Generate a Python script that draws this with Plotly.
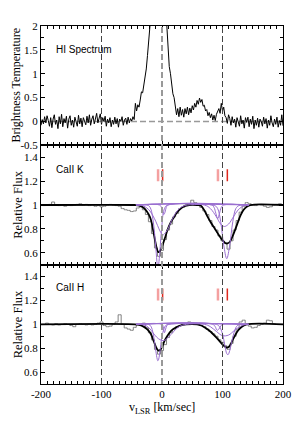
import plotly.graph_objects as go
from plotly.subplots import make_subplots

# ---------------- data ----------------
hi_v = list(range(-200, 201, 2))
hi_t = [
    -0.08, 0.04, -0.05, 0.10, -0.03, 0.12, 0.02, -0.10, 0.08, -0.13,
    0.05, 0.14, -0.06, 0.03, -0.15, 0.10, -0.05, 0.15, -0.11, 0.06,
    -0.03, 0.11, -0.14, 0.05, 0.12, -0.08, 0.03, -0.12, 0.09, 0.00,
    -0.10, 0.13, -0.05, 0.07, -0.11, 0.08, 0.02, -0.07, 0.11, -0.03,
    0.14, -0.08, 0.05, 0.12, -0.05, 0.08, 0.17, -0.03, 0.09, 0.16,
    -0.06, 0.08, 0.00, 0.11, -0.10, 0.05, -0.03, 0.08, -0.11, 0.03,
    -0.06, 0.09, -0.05, 0.06, -0.12, 0.05, 0.00, 0.10, -0.08, 0.03,
    0.07, -0.06, 0.09, -0.03, 0.06, 0.01, 0.10, 0.04, 0.38, 0.22,
    0.35, 0.30, 0.45, 0.62, 0.60, 0.76, 0.92, 1.10, 1.38, 1.62,
    1.98, 2.30, 2.70, 3.10, 3.50, 3.80, 4.00, 4.10, 4.00, 3.80,
    3.50, 3.20, 2.80, 2.40, 2.00, 1.40, 1.15, 1.00, 0.70, 0.58,
    0.50, 0.28, 0.14, 0.27, 0.10, 0.30, 0.13, 0.25, 0.09, 0.27,
    0.16, 0.30, 0.14, 0.28, 0.18, 0.33, 0.24, 0.38, 0.30, 0.44,
    0.36, 0.49, 0.40, 0.46, 0.32, 0.34, 0.22, 0.25, 0.12, 0.19,
    0.08, 0.16, 0.03, 0.13, 0.02, 0.15, 0.22, 0.27, 0.17, 0.38,
    0.22, 0.30, 0.12, 0.08, -0.04, 0.14, 0.06, -0.08, 0.10, -0.03,
    0.05, -0.12, 0.08, 0.00, -0.10, 0.12, -0.05, 0.03, -0.14, 0.08,
    -0.02, 0.09, -0.11, 0.05, -0.06, 0.11, -0.15, 0.03, -0.08, 0.07,
    -0.12, 0.05, 0.00, -0.10, 0.09, -0.05, 0.06, -0.14, 0.03, -0.08,
    0.12, -0.03, -0.11, 0.05, -0.06, 0.09, -0.12, 0.02, -0.08, 0.14,
    -0.09,
]

ca_v = list(range(-200, 201, 5))
cak_flux = [
    1.000, 0.995, 1.000, 1.005, 1.025, 1.000, 0.995, 1.000, 0.990, 1.000,
    0.995, 1.000, 1.005, 1.010, 1.000, 1.005, 0.995, 1.000, 0.990, 0.995,
    0.985, 0.990, 1.000, 1.005, 1.000, 0.995, 0.990, 0.970, 0.960, 0.955,
    0.945, 0.950, 0.975, 0.985, 0.960, 0.920, 0.860, 0.760, 0.640, 0.570,
    0.620, 0.710, 0.790, 0.840, 0.900, 0.930, 0.970, 0.980, 1.000, 1.010,
    1.040, 1.020, 1.000, 0.980, 0.950, 0.920, 0.870, 0.820, 0.790, 0.740,
    0.700, 0.680, 0.630, 0.700, 0.790, 0.870, 0.940, 0.990, 1.020, 1.010,
    1.000, 0.995, 1.005, 1.000, 0.990, 0.980, 0.985, 1.000, 1.005, 1.010,
    1.000,
]
cah_flux = [
    1.000, 1.000, 1.010, 1.000, 0.995, 1.005, 0.995, 1.000, 1.005, 1.000,
    0.990, 0.980, 1.000, 1.005, 1.000, 0.995, 1.000, 0.995, 1.000, 1.010,
    1.020, 0.990, 0.980, 0.985, 1.000, 1.020, 1.080, 1.000, 0.970, 0.960,
    0.950, 0.975, 1.000, 1.000, 1.010, 0.970, 0.930, 0.870, 0.790, 0.750,
    0.780, 0.830, 0.890, 0.930, 0.960, 0.980, 0.990, 1.000, 1.005, 1.020,
    1.015, 1.010, 1.000, 0.990, 0.980, 0.960, 0.940, 0.920, 0.900, 0.870,
    0.850, 0.820, 0.790, 0.840, 0.900, 0.960, 1.020, 1.035, 1.000, 0.985,
    0.970, 0.975, 0.990, 1.000, 1.010, 1.035, 1.030, 1.005, 1.000, 1.000,
    1.000,
]

# total fits
k_fit_v = [-200, -45, -40, -35, -30, -25, -20, -17, -14, -11, -8, -6, -4, -1, 2, 5, 9, 14, 20, 25, 31, 37, 45,
           58, 64, 70, 75, 80, 85, 90, 95, 100, 105, 108, 112, 116, 120, 125, 130, 135, 140, 146, 200]
k_fit_f = [1.0, 1.0, 0.998, 0.99, 0.975, 0.945, 0.90, 0.85, 0.77, 0.69, 0.625, 0.605, 0.61, 0.64, 0.68, 0.725, 0.79, 0.85, 0.90, 0.94, 0.97, 0.99, 1.0,
           1.0, 0.995, 0.955, 0.905, 0.86, 0.82, 0.78, 0.74, 0.705, 0.68, 0.678, 0.69, 0.73, 0.78, 0.85, 0.915, 0.96, 0.985, 1.0, 1.0]
h_fit_v = [-200, -45, -38, -32, -26, -22, -18, -13, -9, -6, -3, 0, 4, 9, 15, 20, 30, 40,
           58, 65, 72, 80, 88, 95, 100, 105, 108, 112, 116, 121, 126, 132, 140, 200]
h_fit_f = [1.0, 1.0, 0.995, 0.985, 0.965, 0.945, 0.915, 0.85, 0.80, 0.78, 0.785, 0.81, 0.86, 0.905, 0.945, 0.965, 0.99, 1.0,
           1.0, 0.99, 0.97, 0.94, 0.90, 0.86, 0.83, 0.81, 0.805, 0.82, 0.86, 0.91, 0.95, 0.98, 1.0, 1.0]

# individual components
k_comp_v = [
    [-43, -25, -21, -18, -15, -12, -10, -8, -7, -6, -4, -2, 0, 2, 5, 9, 143],
    [-43, -35, -30, -25, -20, -15, -10, -5, -2, 2, 6, 10, 15, 20, 25, 30, 35, 42, 143],
    [-43, -4, -1, 1, 3, 5, 7, 10, 143],
    [-43, 87, 92, 97, 102, 107, 112, 117, 122, 127, 132, 143],
    [-43, 82, 86, 89, 92, 95, 98, 102, 143],
    [-43, 70, 80, 90, 97, 103, 110, 118, 126, 136, 143],
]
k_comp_f = [
    [1.0, 1.0, 0.99, 0.96, 0.88, 0.75, 0.63, 0.50, 0.45, 0.48, 0.58, 0.72, 0.84, 0.93, 0.98, 1.0, 1.0],
    [1.0, 1.0, 0.99, 0.975, 0.95, 0.91, 0.86, 0.80, 0.77, 0.75, 0.77, 0.80, 0.86, 0.91, 0.95, 0.975, 0.99, 1.0, 1.0],
    [1.0, 1.0, 0.98, 0.94, 0.92, 0.94, 0.98, 1.0, 1.0],
    [1.0, 0.995, 0.97, 0.86, 0.665, 0.55, 0.665, 0.86, 0.97, 0.995, 1.0, 1.0],
    [1.0, 1.0, 0.98, 0.93, 0.885, 0.93, 0.98, 1.0, 1.0],
    [1.0, 1.0, 0.97, 0.90, 0.84, 0.82, 0.84, 0.90, 0.96, 0.995, 1.0],
]
h_comp_v = [
    [-43, -22, -18, -15, -12, -10, -8, -7, -6, -4, -2, 0, 3, 6, 10, 143],
    [-43, -35, -25, -18, -12, -6, 0, 4, 10, 16, 22, 30, 40, 143],
    [-43, 0, 2, 4, 6, 8, 11, 143],
    [-43, 90, 95, 100, 104, 107, 109, 112, 115, 119, 123, 128, 143],
    [-43, 84, 88, 91, 94, 97, 100, 143],
    [-43, 70, 80, 90, 100, 110, 120, 130, 140, 143],
]
h_comp_f = [
    [1.0, 1.0, 0.98, 0.93, 0.84, 0.77, 0.71, 0.695, 0.70, 0.75, 0.83, 0.90, 0.96, 0.99, 1.0, 1.0],
    [1.0, 1.0, 0.985, 0.95, 0.91, 0.88, 0.865, 0.865, 0.89, 0.92, 0.955, 0.985, 1.0, 1.0],
    [1.0, 1.0, 0.98, 0.93, 0.96, 0.99, 1.0, 1.0],
    [1.0, 1.0, 0.98, 0.92, 0.82, 0.755, 0.745, 0.78, 0.85, 0.93, 0.98, 1.0, 1.0],
    [1.0, 1.0, 0.98, 0.95, 0.96, 0.985, 1.0, 1.0],
    [1.0, 1.0, 0.98, 0.94, 0.905, 0.91, 0.95, 0.985, 1.0, 1.0],
]

# velocity markers
marker_pink_v = [-6.5, 92.5]
marker_red_v = [1.0, 108.0]
marker_y = [1.2, 1.3]

vlines = [-100, 0, 100]
x_ticks = [-200, -100, 0, 100, 200]
x_ticktext = ["-200", "-100", "0", "100", "200"]
hi_ticks = [-0.5, 0, 0.5, 1, 1.5, 2]
hi_ticktext = ["-0.5", "0", "0.5", "1", "1.5", "2"]
ca_ticks = [0.6, 0.8, 1.0, 1.2, 1.4]
ca_ticktext = ["0.6", "0.8", "1", "1.2", "1.4"]

# ---------------- figure ----------------
SERIF = "Liberation Serif, Times New Roman, serif"
SANS = "Liberation Sans, Arial, sans-serif"
PURPLE = "#9a6fd0"

fig = make_subplots(rows=3, cols=1, shared_xaxes=True, vertical_spacing=0)

fig.add_trace(go.Scatter(x=hi_v, y=hi_t, mode="lines",
                         line=dict(color="black", width=1)), row=1, col=1)

for row, flux, fv, ff, cv, cf in [
    (2, cak_flux, k_fit_v, k_fit_f, k_comp_v, k_comp_f),
    (3, cah_flux, h_fit_v, h_fit_f, h_comp_v, h_comp_f),
]:
    fig.add_trace(go.Scatter(x=ca_v, y=flux, mode="lines", line_shape="hvh",
                             line=dict(color="#808080", width=1)), row=row, col=1)
    fig.add_trace(go.Scatter(x=fv, y=ff, mode="lines", line_shape="spline",
                             line=dict(color="black", width=1.8)), row=row, col=1)
    for xv, yv in zip(cv, cf):
        fig.add_trace(go.Scatter(x=xv, y=yv, mode="lines", line_shape="spline",
                                 line=dict(color=PURPLE, width=1)), row=row, col=1)
    for v in marker_pink_v:
        fig.add_trace(go.Scatter(x=[v, v], y=marker_y, mode="lines",
                                 line=dict(color="#f4a0a0", width=2.5)), row=row, col=1)
    for v in marker_red_v:
        fig.add_trace(go.Scatter(x=[v, v], y=marker_y, mode="lines",
                                 line=dict(color="#e0281e", width=1.5)), row=row, col=1)

axis_common = dict(showline=True, linecolor="black", linewidth=1, mirror="allticks",
                   ticks="inside", ticklen=4, tickwidth=1, tickcolor="black",
                   showgrid=False, zeroline=False,
                   tickfont=dict(family=SERIF, size=11, color="black"))

for r in (1, 2, 3):
    fig.update_xaxes(range=[-200, 200], tickmode="array", tickvals=x_ticks, ticktext=x_ticktext,
                     minor=dict(tickmode="linear", tick0=-200, dtick=10, ticklen=3,
                                ticks="inside", tickcolor="black", showgrid=False),
                     **axis_common, row=r, col=1)
fig.update_yaxes(range=[-0.5, 2], tickmode="array", tickvals=hi_ticks, ticktext=hi_ticktext,
                 minor=dict(tickmode="linear", tick0=0, dtick=0.25, ticklen=3,
                            ticks="inside", tickcolor="black", showgrid=False),
                 **axis_common, row=1, col=1)
for r in (2, 3):
    fig.update_yaxes(range=[0.5, 1.5], tickmode="array", tickvals=ca_ticks, ticktext=ca_ticktext,
                     minor=dict(tickmode="linear", tick0=0.5, dtick=0.1, ticklen=3,
                                ticks="inside", tickcolor="black", showgrid=False),
                     **axis_common, row=r, col=1)

# dashed reference lines
shapes = []
for v in vlines:
    shapes.append(dict(type="line", xref="x", yref="paper", x0=v, x1=v, y0=0, y1=1,
                       line=dict(color="#999999" if v == 0 else "#444444",
                                 width=2 if v == 0 else 1, dash="6px,3px"),
                       layer="above"))
shapes.append(dict(type="line", xref="x", yref="y", x0=-200, x1=200, y0=0, y1=0,
                   line=dict(color="#999999", width=1.5, dash="6px,3px"), layer="below"))
fig.update_layout(shapes=shapes)

annotations = [
    dict(text="HI Spectrum", xref="x", yref="y", x=-178, y=1.51, xanchor="left", yanchor="middle",
         showarrow=False, font=dict(family=SANS, size=10, color="black")),
    dict(text="CaII K", xref="x2", yref="y2", x=-179, y=1.30, xanchor="left", yanchor="middle",
         showarrow=False, font=dict(family=SANS, size=10, color="black")),
    dict(text="CaII H", xref="x3", yref="y3", x=-179, y=1.31, xanchor="left", yanchor="middle",
         showarrow=False, font=dict(family=SANS, size=10, color="black")),
    dict(text="Brightness Temperature", xref="paper", yref="paper", x=-0.103, y=0.834,
         xanchor="center", yanchor="middle", textangle=-90, showarrow=False,
         font=dict(family=SERIF, size=12, color="black")),
    dict(text="Relative Flux", xref="paper", yref="paper", x=-0.096, y=0.5,
         xanchor="center", yanchor="middle", textangle=-90, showarrow=False,
         font=dict(family=SERIF, size=12.5, color="black")),
    dict(text="Relative Flux", xref="paper", yref="paper", x=-0.096, y=0.166,
         xanchor="center", yanchor="middle", textangle=-90, showarrow=False,
         font=dict(family=SERIF, size=12.5, color="black")),
    dict(text="v<sub>LSR</sub> [km/sec]", xref="paper", yref="paper", x=0.5, y=-0.066,
         xanchor="center", yanchor="middle", showarrow=False,
         font=dict(family=SERIF, size=12, color="black")),
]
fig.update_layout(annotations=annotations)

# page body has an 8px default margin, so the figure is 8px smaller and margins compensate
fig.update_layout(width=296, height=423, margin=dict(l=28, r=17, t=12, b=47),
                  showlegend=False, plot_bgcolor="white", paper_bgcolor="white")

fig.write_html("out.html")
